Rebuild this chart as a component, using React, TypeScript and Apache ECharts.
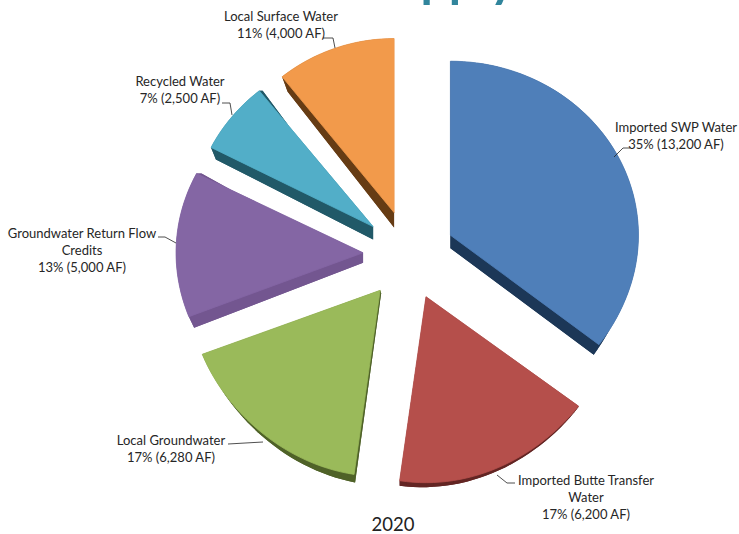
import React, { useEffect, useRef } from "react";
import * as echarts from "echarts";

const categories = [
  "Imported SWP Water",
  "Imported Butte Transfer\nWater",
  "Local Groundwater",
  "Groundwater Return Flow\nCredits",
  "Recycled Water",
  "Local Surface Water",
];
const acreFeet = [13200, 6200, 6280, 5000, 2500, 4000];
const percentLabels = ["35% (13,200 AF)", "17% (6,200 AF)", "17% (6,280 AF)", "13% (5,000 AF)", "7% (2,500 AF)", "11% (4,000 AF)"];
const topColors = ["#4f7fb9", "#b54f4b", "#9aba5a", "#8466a4", "#52aec8", "#f29a4b"];
const sideColors = ["#1c3757", "#632523", "#4f6228", "#735690", "#215968", "#663c14"];

const CX = 408, CY = 255, RY = 174, RY_NEAR_EXTRA = 12, EXPLODE = 45;
const radiusX = [188, 193, 191, 187, 182, 179];
const nudgeX = [2, 1, 0, 0, 0, 1];
const apexDepth = [13, 0, 3, 10, 13, 15];
const rimDepthStart = [0, 1, 8, 11, 12, 15];
const rimDepthEnd = [10, 5, 0, 0, 0, 0];
const sideTaper = [0.035, 0, 0, 0.03, 0.03, 0.05];
const sideShiftX = [0, 0, 1, 0, 0, 0];
const labelAnchor = [[676, 118], [586, 471], [171, 431], [82, 224], [180, 72], [281, 7]];
const leaders = [
  [[630, 148], [623, 148], [614, 157]],
  [[515, 483], [507, 483], [497, 475]],
  [[228, 444], [263, 442]],
  [[158, 237], [165, 237], [176, 243]],
  [[222, 103], [230, 103], [232, 115]],
  [[323, 38], [333, 38], [335, 48]],
];

const FONT = "Lato";

function sliceGeometry(index: number) {
  const total = acreFeet.reduce((a, b) => a + b, 0);
  const before = acreFeet.slice(0, index).reduce((a, b) => a + b, 0);
  const start = (before / total) * 2 * Math.PI;
  const end = ((before + acreFeet[index]) / total) * 2 * Math.PI;
  const mid = (start + end) / 2;
  const ax = CX + nudgeX[index] + EXPLODE * Math.sin(mid);
  const ay = CY - EXPLODE * Math.cos(mid);
  const rim: number[][] = [];
  const steps = Math.max(8, Math.round(((end - start) * 180) / Math.PI / 2));
  for (let i = 0; i <= steps; i++) {
    const t = start + ((end - start) * i) / steps;
    const c = Math.cos(t);
    const ry = c > 0 ? RY : RY + RY_NEAR_EXTRA * c * c;
    rim.push([ax + radiusX[index] * Math.sin(t), ay - ry * c]);
  }
  return { apex: [ax, ay], rim };
}

const renderSlice = (params: any) => {
  const i = params.dataIndex;
  const { apex, rim } = sliceGeometry(i);
  const top = [apex, ...rim];
  const lower = top.map((p, k) => {
    const f = k === 0 ? 0 : (k - 1) / (rim.length - 1);
    const d = k === 0 ? apexDepth[i] : rimDepthStart[i] + (rimDepthEnd[i] - rimDepthStart[i]) * f;
    return [p[0] - (p[0] - apex[0]) * sideTaper[i] + sideShiftX[i], p[1] + d];
  });
  const children: any[] = [];
  children.push({ type: "polygon", shape: { points: lower }, style: { fill: sideColors[i] } });
  top.forEach((p, k) => {
    const n = (k + 1) % top.length;
    children.push({
      type: "polygon",
      shape: { points: [p, top[n], lower[n], lower[k]] },
      style: { fill: sideColors[i] },
    });
  });
  children.push({ type: "polygon", shape: { points: top }, style: { fill: topColors[i], stroke: topColors[i], lineWidth: 0.8 } });
  children.push({ type: "polyline", shape: { points: leaders[i] }, style: { stroke: "#222", lineWidth: 0.8, fill: "none" } });
  const [lx, ly] = labelAnchor[i];
  children.push({
    type: "text",
    style: {
      text: categories[i] + "\n" + percentLabels[i],
      x: lx,
      y: ly,
      textAlign: "center",
      textVerticalAlign: "top",
      font: `13px ${FONT}`,
      lineHeight: 17,
      fill: "#262626",
    },
  });
  return { type: "group", children };
};

export default function App() {
  const ref = useRef<HTMLDivElement>(null);
  useEffect(() => {
    document.body.style.margin = "0";
    const chart = echarts.init(ref.current!, null, { renderer: "svg" });
    chart.setOption({
      animation: false,
      backgroundColor: "#ffffff",
      graphic: [
        { type: "text", style: { text: "Supply", x: 516, y: -47, textAlign: "right", font: `bold 50px ${FONT}`, fill: "#31859c" } },
        { type: "text", style: { text: "2020", x: 393, y: 514, textAlign: "center", font: `18.5px ${FONT}`, fill: "#222" } },
      ],
      series: [
        {
          type: "custom",
          coordinateSystem: "none",
          renderItem: renderSlice,
          data: acreFeet.map((v) => [v]),
        },
      ],
    });
    return () => chart.dispose();
  }, []);
  return <div ref={ref} style={{ width: 739, height: 534 }} />;
}
